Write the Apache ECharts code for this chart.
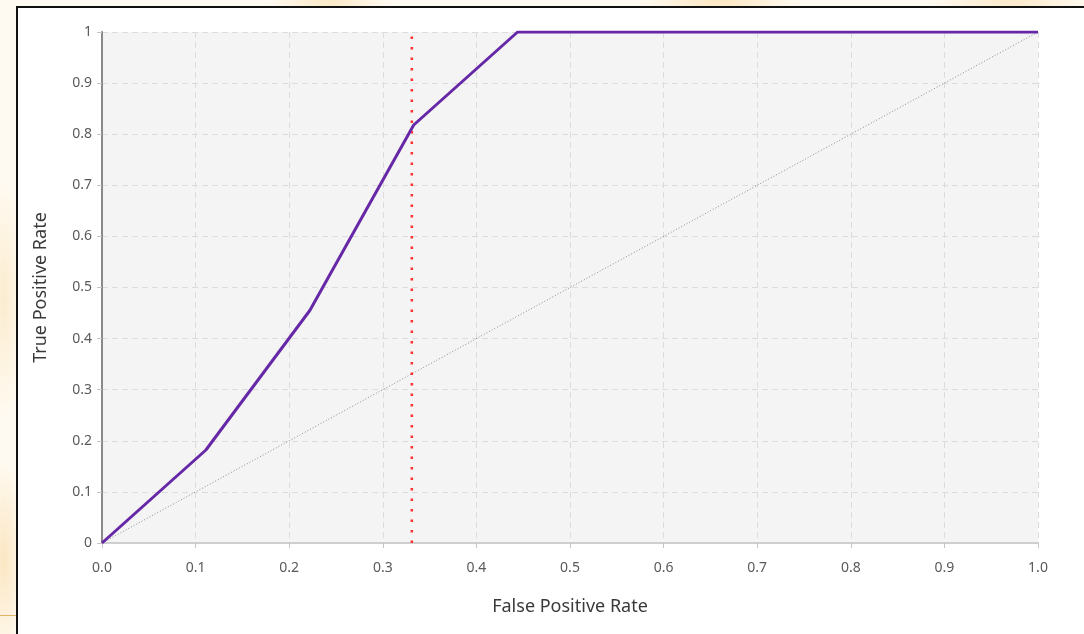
<!DOCTYPE html>
<html>
<head>
<meta charset="utf-8">
<script src="https://cdn.jsdelivr.net/npm/echarts@6/dist/echarts.min.js"></script>
<style>
  html, body { margin: 0; padding: 0; width: 1084px; height: 634px; overflow: hidden; }
  body {
    background:
      radial-gradient(ellipse 60px 30px at 330px 0px, #fbe9c6 0%, rgba(251,233,198,0) 100%),
      radial-gradient(ellipse 80px 30px at 720px 0px, #fbe6c0 0%, rgba(251,230,192,0) 100%),
      radial-gradient(ellipse 80px 30px at 1010px 0px, #fbe9c9 0%, rgba(251,233,201,0) 100%),
      radial-gradient(ellipse 20px 120px at 4px 300px, #fbeccf 0%, rgba(251,236,207,0) 100%),
      radial-gradient(ellipse 20px 100px at 4px 560px, #fbe6c2 0%, rgba(251,230,194,0) 100%),
      #fffaf1;
  }
  #frame {
    position: absolute; left: 16px; top: 6px; width: 1080px; height: 640px;
    background: #ffffff; border-left: 2px solid #111; border-top: 2px solid #111;
  }
  #edge { position: absolute; left: 0; top: 615px; width: 16px; height: 1px; background: #e2b46a; }
  #chart { position: absolute; left: 0; top: 0; width: 1084px; height: 634px; }
</style>
</head>
<body>
<div id="frame"></div>
<div id="edge"></div>
<div id="chart"></div>
<script>
// ROC curve: false positive rate vs true positive rate
const fpr = [0, 0.111, 0.222, 0.333, 0.444, 1.0];
const tpr = [0, 0.182, 0.455, 0.818, 1.0, 1.0];
// chance diagonal
const chanceX = [0, 1];
const chanceY = [0, 1];
// selected threshold operating point
const thresholdFpr = 0.331;
const yTicks = [0, 0.1, 0.2, 0.3, 0.4, 0.5, 0.6, 0.7, 0.8, 0.9, 1];

const font = '"Noto Sans", "Open Sans", sans-serif';
const chart = echarts.init(document.getElementById('chart'), null, { renderer: 'canvas' });

const gridLine = { show: true, lineStyle: { color: '#dcdcdc', width: 1, type: [6, 4] } };

chart.setOption({
  animation: false,
  backgroundColor: 'transparent',
  grid: { left: 102, right: 46, top: 32, bottom: 91, show: true, backgroundColor: '#f4f4f4', borderWidth: 0 },
  xAxis: {
    type: 'value', min: 0, max: 1, interval: 0.1,
    name: 'False Positive Rate', nameLocation: 'middle', nameGap: 55,
    nameTextStyle: { fontFamily: font, fontSize: 18, color: '#3a3a3a', verticalAlign: 'top' },
    axisLine: { show: true, lineStyle: { color: '#cfcfcf', width: 2 } },
    axisTick: { show: true, length: 5, lineStyle: { color: '#c4c4c4', width: 1 } },
    axisLabel: { fontFamily: font, fontSize: 14, color: '#5a5a5a', margin: 18, formatter: v => v.toFixed(1) },
    splitLine: gridLine
  },
  yAxis: {
    type: 'value', min: 0, max: 1, interval: 0.1,
    name: 'True Positive Rate', nameLocation: 'middle', nameGap: 52,
    nameTextStyle: { fontFamily: font, fontSize: 18, color: '#3a3a3a' },
    axisLine: { show: true, lineStyle: { color: '#8a8a8a', width: 2 } },
    axisTick: { show: true, length: 5, lineStyle: { color: '#c4c4c4', width: 1 } },
    axisLabel: {
      fontFamily: font, fontSize: 14, color: '#5a5a5a', margin: 10,
      formatter: v => {
        const t = yTicks.find(k => Math.abs(k - v) < 1e-9);
        return (t === 0 || t === 1) ? String(t) : v.toFixed(1);
      }
    },
    splitLine: gridLine
  },
  series: [
    {
      type: 'line', name: 'chance', silent: true, symbol: 'none', z: 2,
      data: chanceX.map((x, i) => [x, chanceY[i]]),
      lineStyle: { color: '#8c8c8c', width: 1, type: [1, 2] }
    },
    {
      type: 'line', name: 'threshold', silent: true, symbol: 'none', z: 3,
      data: [[thresholdFpr, 0], [thresholdFpr, 1]],
      lineStyle: { color: '#ff3030', width: 2.5, type: [2.5, 8] }
    },
    {
      type: 'line', name: 'ROC', silent: true, symbol: 'none', z: 4,
      data: fpr.map((x, i) => [x, tpr[i]]),
      lineStyle: { color: '#6628a6', width: 3 }
    }
  ]
});
</script>
</body>
</html>
